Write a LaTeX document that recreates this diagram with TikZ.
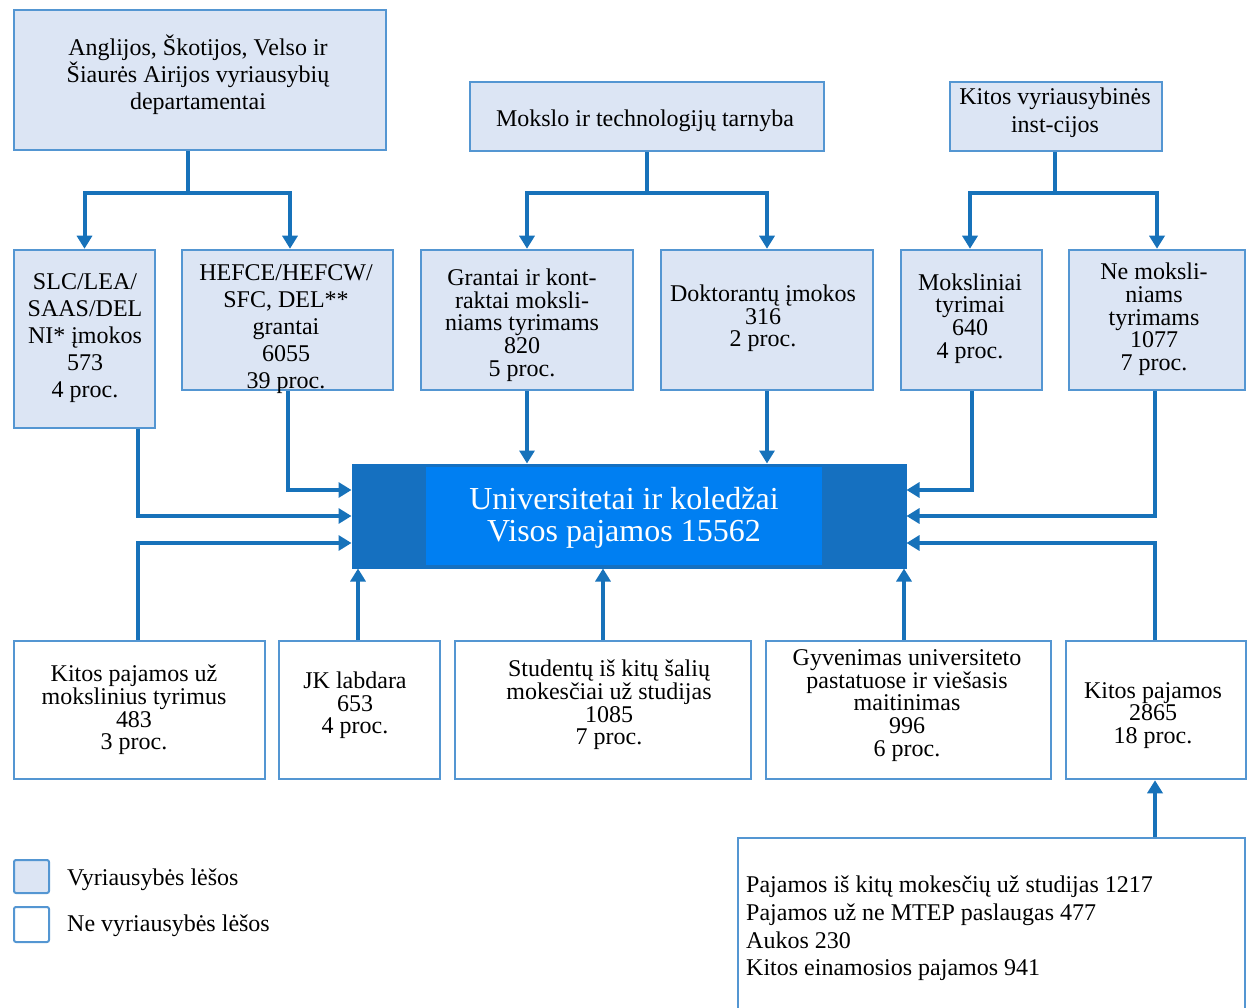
\documentclass[tikz,border=0pt]{standalone}
\usepackage{fontspec}
\setmainfont{Liberation Serif}
\usetikzlibrary{arrows.meta}
\definecolor{govfill}{RGB}{220,229,244}
\definecolor{boxline}{RGB}{84,150,210}
\definecolor{flow}{RGB}{23,114,186}
\definecolor{hubdark}{RGB}{21,112,192}
\definecolor{hublight}{RGB}{0,127,242}
\tikzset{
  gov/.style={draw=boxline, line width=2.5pt, fill=govfill, inner sep=0pt},
  nongov/.style={draw=boxline, line width=2.5pt, fill=white, inner sep=0pt},
  txt/.style={align=center, inner sep=0pt, yshift=-3pt, font=\fontsize{24}{27}\selectfont},
  tight/.style={align=center, inner sep=0pt, yshift=-2.5pt, font=\fontsize{24}{22.7}\selectfont},
  plain/.style={anchor=west, inner sep=0pt, yshift=-3pt},
  link/.style={draw=flow, line width=4pt},
  arr/.style={link, -{Triangle[width=15pt,length=13pt]}},
}
\begin{document}
\begin{tikzpicture}[x=1pt, y=-1pt]
\useasboundingbox (0,0) rectangle (1251,1008);

% --- funding bodies (top row)
\node[gov, minimum width=372pt, minimum height=140pt] (dep) at (200,80) {};
\node[txt, yshift=2.5pt] (dep-t) at (198,74.5) {Anglijos, Škotijos, Velso ir\\Šiaurės Airijos vyriausybių\\departamentai};
\node[gov, minimum width=354pt, minimum height=69pt] (mit) at (647,116.5) {};
\node[txt] (mit-t) at (645,118) {Mokslo ir technologijų tarnyba};
\node[gov, minimum width=212pt, minimum height=69pt] (kvi) at (1056,116.5) {};
\node[txt, font=\fontsize{24}{28}\selectfont] (kvi-t) at (1055,110) {Kitos vyriausybinės\\inst-cijos};

% --- government streams
\node[gov, minimum width=141pt, minimum height=178pt] (slc) at (84.5,339) {};
\node[txt] (slc-t) at (85,335.5) {SLC/LEA/\\SAAS/DEL\\NI* įmokos\\573\\4 proc.};
\node[gov, minimum width=211pt, minimum height=140pt] (hef) at (287.5,320) {};
\node[txt] (hef-t) at (286,326) {HEFCE/HEFCW/\\SFC, DEL**\\grantai\\6055\\39 proc.};
\node[gov, minimum width=212pt, minimum height=140pt] (gr) at (527,320) {};
\node[tight] (gr-t) at (522,322.5) {Grantai ir kont-\\raktai moksli-\\niams tyrimams\\820\\5 proc.};
\node[gov, minimum width=212pt, minimum height=140pt] (dk) at (767,320) {};
\node[tight] (dk-t) at (763,316) {Doktorantų įmokos\\316\\2 proc.};
\node[gov, minimum width=141pt, minimum height=140pt] (mk) at (971.5,320) {};
\node[tight] (mk-t) at (970,316) {Moksliniai\\tyrimai\\640\\4 proc.};
\node[gov, minimum width=176pt, minimum height=140pt] (nm) at (1157,320) {};
\node[tight] (nm-t) at (1154,317) {Ne moksli-\\niams\\tyrimams\\1077\\7 proc.};

% --- universities and colleges
\node[fill=hubdark, draw=hubdark, line width=1pt, minimum width=554pt, minimum height=104pt, inner sep=0pt] (uni) at (629,516) {};
\fill[hublight] (426,467) rectangle (822,565);
\node[align=center, inner sep=0pt, yshift=-3.5pt, text=white, font=\fontsize{32}{32}\selectfont] (uni-t) at (624,514) {Universitetai ir koledžai\\Visos pajamos 15562};

% --- non-government streams
\node[nongov, minimum width=251pt, minimum height=138pt] (kp) at (139.5,710) {};
\node[tight] (kp-t) at (134,707.5) {Kitos pajamos už\\mokslinius tyrimus\\483\\3 proc.};
\node[nongov, minimum width=161pt, minimum height=138pt] (jk) at (359.5,710) {};
\node[tight] (jk-t) at (355,703) {JK labdara\\653\\4 proc.};
\node[nongov, minimum width=296pt, minimum height=138pt] (st) at (603,710) {};
\node[tight] (st-t) at (609,702.5) {Studentų iš kitų šalių\\mokesčiai už studijas\\1085\\7 proc.};
\node[nongov, minimum width=285pt, minimum height=138pt] (gy) at (908.5,710) {};
\node[tight] (gy-t) at (907,703) {Gyvenimas universiteto\\pastatuose ir viešasis\\maitinimas\\996\\6 proc.};
\node[nongov, minimum width=180pt, minimum height=138pt] (kt) at (1156,710) {};
\node[tight] (kt-t) at (1153,713) {Kitos pajamos\\2865\\18 proc.};

% --- breakdown of other income
\node[nongov, minimum width=507pt, minimum height=190pt] (br) at (991.5,933) {};
\node[plain, align=left, font=\fontsize{24}{27.7}\selectfont] (br-t) at (746,925.5)
  {Pajamos iš kitų mokesčių už studijas 1217\\Pajamos už ne MTEP paslaugas 477\\Aukos 230\\Kitos einamosios pajamos 941};

% --- legend
\node[gov, line width=2pt, rounded corners=2pt, minimum width=35pt, minimum height=33pt] (lg1) at (31.5,876.5) {};
\node[plain, font=\fontsize{24}{27}\selectfont] (lg1-t) at (67,877) {Vyriausybės lėšos};
\node[nongov, line width=2pt, rounded corners=2pt, minimum width=35pt, minimum height=35pt] (lg2) at (31.5,924.5) {};
\node[plain, font=\fontsize{24}{27}\selectfont] (lg2-t) at (67,923) {Ne vyriausybės lėšos};

% --- branches from funding bodies
\coordinate (jdep) at (188,193);
\coordinate (jmit) at (647,193);
\coordinate (jkvi) at (1055,193);
\draw[link] (dep.south -| jdep) -- (jdep);
\draw[arr] ([xshift=2pt]jdep) -| (slc.north);
\draw[arr] ([xshift=-2pt]jdep) -| ([xshift=2.5pt]hef.north);
\draw[link] (mit.south -| jmit) -- (jmit);
\draw[arr] ([xshift=2pt]jmit) -| (gr.north);
\draw[arr] ([xshift=-2pt]jmit) -| (dk.north);
\draw[link] (kvi.south -| jkvi) -- (jkvi);
\draw[arr] ([xshift=2pt]jkvi) -| ([xshift=-1.5pt]mk.north);
\draw[arr] ([xshift=-2pt]jkvi) -| (nm.north);

% --- flows into universities
\draw[arr] ([xshift=53.5pt]slc.south) |- (uni.west);
\draw[arr] (hef.south) |- ([yshift=26pt]uni.west);
\draw[arr] (gr.south) -- (gr.south |- uni.north);
\draw[arr] (dk.south) -- (dk.south |- uni.north);
\draw[arr] (mk.south) |- ([yshift=26pt]uni.east);
\draw[arr] ([xshift=-2pt]nm.south) |- (uni.east);
\draw[arr] ([xshift=-1.5pt]kp.north) |- ([yshift=-27pt]uni.west);
\draw[arr] ([xshift=-1.5pt]jk.north) -- ([xshift=-1.5pt]jk.north |- uni.south);
\draw[arr] (st.north) -- (st.north |- uni.south);
\draw[arr] ([xshift=-4.5pt]gy.north) -- ([xshift=-4.5pt]gy.north |- uni.south);
\draw[arr] ([xshift=-1pt]kt.north) |- ([yshift=-27pt]uni.east);
\draw[arr] ([xshift=-1pt]br.north -| kt.north) -- ([xshift=-1pt]kt.south);
\end{tikzpicture}
\end{document}
